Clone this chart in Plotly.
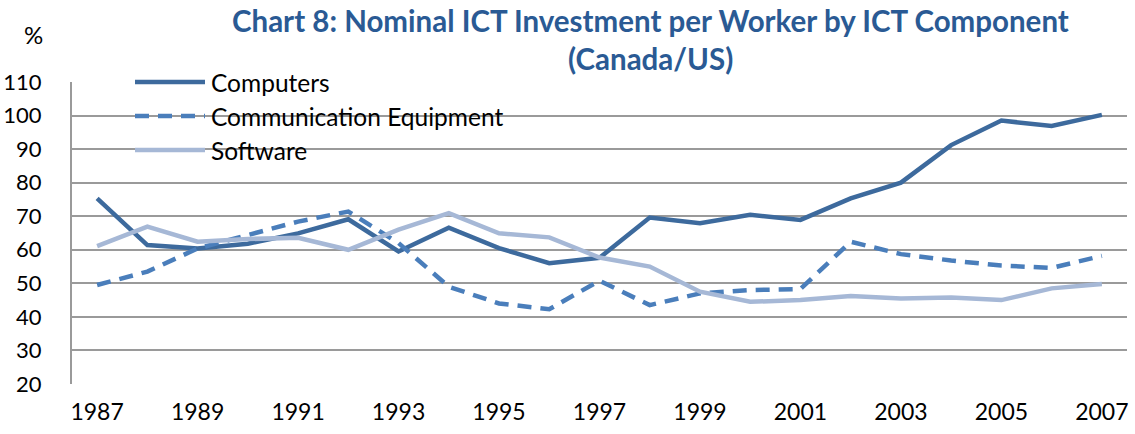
import plotly.graph_objects as go

years = list(range(1987, 2008))
computers = [75.3, 61.4, 60.4, 61.8, 64.9, 69.1, 59.5, 66.6, 60.5, 56.0, 57.6, 69.6, 67.9, 70.4, 68.9, 75.3, 80.0, 91.2, 98.5, 96.9, 100.2]
comm_equip = [49.5, 53.5, 60.4, 64.4, 68.4, 71.4, 62.0, 49.0, 44.0, 42.3, 50.8, 43.5, 47.0, 48.0, 48.3, 62.4, 58.7, 56.8, 55.3, 54.6, 58.2]
software = [61.1, 66.9, 62.4, 63.2, 63.6, 60.0, 66.0, 70.9, 64.9, 63.7, 57.7, 55.0, 47.5, 44.5, 45.0, 46.2, 45.5, 45.8, 45.0, 48.5, 49.8]
tick_years = list(range(1987, 2008, 2))
y_ticks = list(range(20, 111, 10))

series = [
    ("Computers", computers, "#3D6A9D", "solid"),
    ("Communication Equipment", comm_equip, "#4A7EBB", "14px,9px"),
    ("Software", software, "#A6B8D6", "solid"),
]

W, H = 1135, 434
L, R, T, B = 72, 8, 82, 50
pw, ph = W - L - R, H - T - B

def px(x):
    return (x - L) / pw

def py(y):
    return (H - B - y) / ph

fig = go.Figure()
for name, vals, col, dash in series:
    fig.add_trace(go.Scatter(x=years, y=vals, mode="lines", name=name,
                             line=dict(color=col, width=4.5, dash=dash),
                             showlegend=False, hoverinfo="skip"))

shapes = []
annotations = []
# legend box (white, covering gridlines)
shapes.append(dict(type="rect", xref="paper", yref="paper",
                   x0=px(90), x1=px(516), y0=py(168), y1=py(66),
                   fillcolor="white", line=dict(width=0), layer="below"))
for i, (name, vals, col, dash) in enumerate(series):
    yy = 82 + i * 34
    shapes.append(dict(type="line", xref="paper", yref="paper",
                       x0=px(135), x1=px(205), y0=py(yy), y1=py(yy),
                       line=dict(color=col, width=4.5, dash=dash)))
    annotations.append(dict(text=name, xref="paper", yref="paper",
                            x=px(209), y=py(yy), xanchor="left", yanchor="middle",
                            showarrow=False, font=dict(size=24.5, color="#000000", family="Lato")))

annotations.append(dict(text="<b>Chart 8: Nominal ICT Investment per Worker by ICT Component</b>",
                        xref="paper", yref="paper", x=px(650), y=py(21),
                        xanchor="center", yanchor="middle", showarrow=False,
                        font=dict(size=29.5, color="#2A5A94", family="Lato")))
annotations.append(dict(text="<b>(Canada/US)</b>",
                        xref="paper", yref="paper", x=px(650), y=py(58),
                        xanchor="center", yanchor="middle", showarrow=False,
                        font=dict(size=29.5, color="#2A5A94", family="Lato")))
annotations.append(dict(text="%", xref="paper", yref="paper", x=px(33), y=py(35),
                        xanchor="center", yanchor="middle", showarrow=False,
                        font=dict(size=24, color="#000000", family="Lato")))

fig.update_layout(
    width=W, height=H,
    margin=dict(l=L, r=R, t=T, b=B, autoexpand=False),
    paper_bgcolor="white", plot_bgcolor="white",
    font=dict(family="Lato", size=23, color="#000000"),
    shapes=shapes, annotations=annotations,
)
fig.update_xaxes(range=[1986.5, 2007.5], tickvals=tick_years, ticktext=[str(y) for y in tick_years],
                 showgrid=False, zeroline=False, showline=False, ticks="",
                 ticklabelstandoff=12, automargin=False)
fig.update_yaxes(range=[20, 110], tickvals=y_ticks, showgrid=True, gridcolor="#9A9A9A",
                 gridwidth=2, zeroline=False, showline=True, linecolor="#9A9A9A", linewidth=2,
                 ticks="", ticklabelstandoff=24, layer="below traces", automargin=False,
                 tickfont=dict(size=22))

fig.write_html("out.html", config={"displayModeBar": False},
               post_script="document.body.style.margin='0';document.body.style.overflow='hidden';")
